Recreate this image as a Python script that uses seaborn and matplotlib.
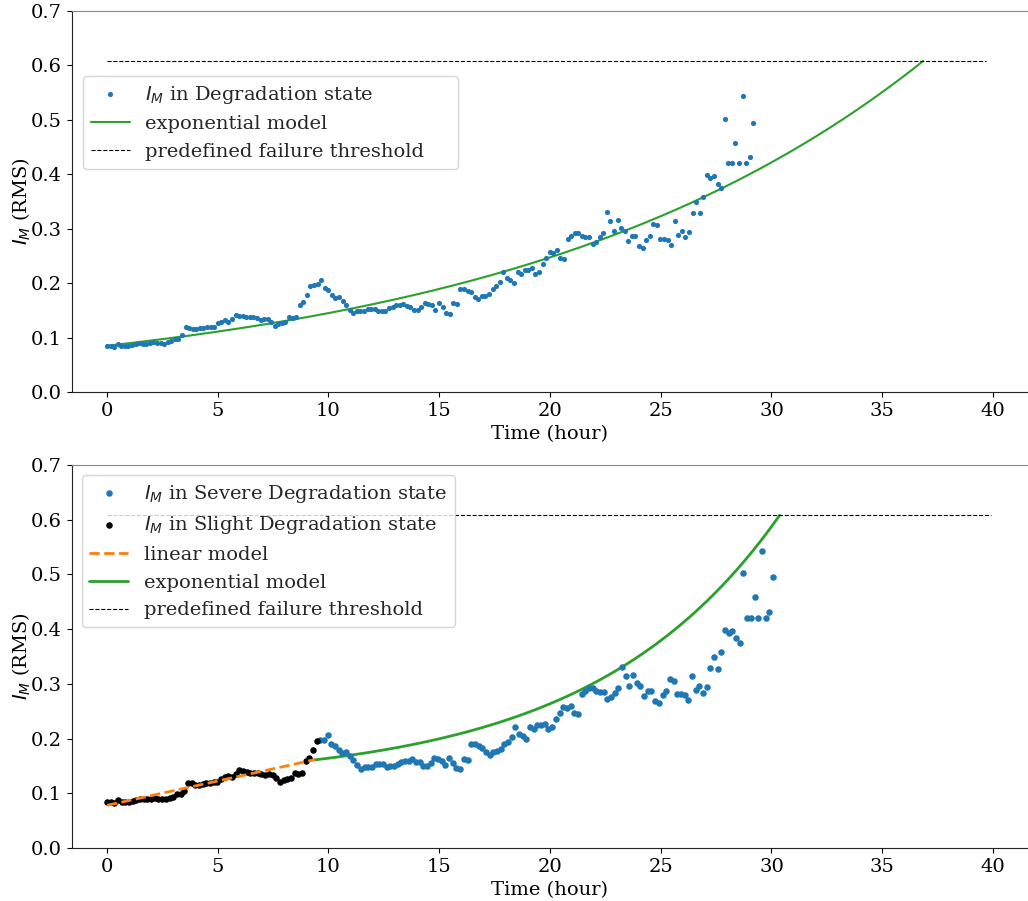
import numpy as np
import pandas as pd
import matplotlib
matplotlib.use("Agg")
import matplotlib.pyplot as plt
import seaborn as sns

# ---------------- data ----------------
im_values = [
    0.085, 0.085, 0.083, 0.088, 0.085, 0.085, 0.085, 0.086, 0.088, 0.090,
    0.089, 0.089, 0.090, 0.091, 0.090, 0.090, 0.089, 0.091, 0.093, 0.098,
    0.098, 0.105, 0.119, 0.118, 0.116, 0.116, 0.117, 0.118, 0.119, 0.120,
    0.120, 0.126, 0.129, 0.132, 0.129, 0.135, 0.142, 0.140, 0.139, 0.137,
    0.137, 0.137, 0.136, 0.133, 0.135, 0.134, 0.128, 0.121, 0.125, 0.126,
    0.128, 0.137, 0.136, 0.138, 0.159, 0.165, 0.179, 0.195, 0.197, 0.198,
    0.206, 0.191, 0.187, 0.179, 0.173, 0.175, 0.168, 0.160, 0.151, 0.145,
    0.148, 0.148, 0.148, 0.153, 0.153, 0.153, 0.148, 0.149, 0.149, 0.154,
    0.157, 0.159, 0.159, 0.162, 0.158, 0.157, 0.150, 0.150, 0.156, 0.164,
    0.162, 0.159, 0.151, 0.164, 0.156, 0.146, 0.144, 0.163, 0.161, 0.190,
    0.190, 0.186, 0.183, 0.175, 0.170, 0.176, 0.177, 0.181, 0.190, 0.194,
    0.202, 0.221, 0.209, 0.205, 0.200, 0.221, 0.217, 0.224, 0.225, 0.227,
    0.217, 0.221, 0.235, 0.247, 0.258, 0.256, 0.260, 0.247, 0.245, 0.282,
    0.287, 0.293, 0.293, 0.287, 0.285, 0.285, 0.272, 0.276, 0.284, 0.292,
    0.331, 0.315, 0.296, 0.316, 0.302, 0.296, 0.277, 0.287, 0.287, 0.268,
    0.265, 0.279, 0.287, 0.309, 0.306, 0.281, 0.282, 0.279, 0.271, 0.314,
    0.288, 0.296, 0.284, 0.294, 0.329, 0.349, 0.328, 0.359, 0.398, 0.393,
    0.396, 0.383, 0.374, 0.502, 0.420, 0.421, 0.458, 0.420, 0.543, 0.420,
    0.431, 0.495,
]
n_slight = 58            # first samples belong to the Slight Degradation state
dt_top = 0.1612          # hours per sample (top panel)
dt_bottom = 0.1661       # hours per sample (bottom panel)

threshold = 0.608
thr_end_top = 39.7
thr_end_bottom = 39.9

# exponential model, top: a*exp(b*t)
exp_top_a, exp_top_b = 0.085, 0.0534
# linear model, bottom: b0 + b1*t (0 .. lin_t_end)
lin_b0, lin_b1, lin_t_end = 0.078, 0.0089, 9.4
# exponential model, bottom: c + a*exp(b*t) from exp_bot_t0
exp_bot_c, exp_bot_a, exp_bot_b, exp_bot_t0 = 0.12, 0.01356, 0.118, 9.4

xticks = [0, 5, 10, 15, 20, 25, 30, 35, 40]
yticks = [0.0, 0.1, 0.2, 0.3, 0.4, 0.5, 0.6, 0.7]

# ---------------- style ----------------
sns.set_style("ticks")
plt.rcParams["font.family"] = ["DejaVu Serif"]
plt.rcParams["mathtext.fontset"] = "dejavusans"
FS = 14

BLUE, GREEN, ORANGE = "#1f77b4", "#2ca02c", "#ff7f0e"

vals = np.array(im_values)
idx = np.arange(len(vals))
df_top = pd.DataFrame({"t": idx * dt_top, "v": vals})
df_bot = pd.DataFrame({"t": idx * dt_bottom, "v": vals})

fig = plt.figure(figsize=(10.28, 9.01), dpi=100)
ax1 = fig.add_axes([0.070, 0.5649, 0.930, 0.4229])
ax2 = fig.add_axes([0.070, 0.0588, 0.930, 0.4251])

# ---------------- top panel ----------------
sns.scatterplot(data=df_top, x="t", y="v", ax=ax1, color=BLUE, s=14,
                linewidth=0, label=r"$I_M$ in Degradation state", zorder=3)
t_end_top = np.log(threshold / exp_top_a) / exp_top_b
tt = np.linspace(0, t_end_top, 300)
sns.lineplot(x=tt, y=exp_top_a * np.exp(exp_top_b * tt), ax=ax1, color=GREEN,
             lw=1.5, label="exponential model", zorder=2)
sns.lineplot(x=[0, thr_end_top], y=[threshold, threshold], ax=ax1, color="k",
             lw=0.8, linestyle="--", label="predefined failure threshold")

# ---------------- bottom panel ----------------
sns.scatterplot(data=df_bot.iloc[n_slight:], x="t", y="v", ax=ax2, color=BLUE,
                s=22, linewidth=0, label=r"$I_M$ in Severe Degradation state", zorder=3)
sns.scatterplot(data=df_bot.iloc[:n_slight], x="t", y="v", ax=ax2, color="k",
                s=22, linewidth=0, label=r"$I_M$ in Slight Degradation state", zorder=3)
tl = np.linspace(0, lin_t_end, 50)
sns.lineplot(x=tl, y=lin_b0 + lin_b1 * tl, ax=ax2, color=ORANGE, lw=2,
             linestyle="--", label="linear model", zorder=4)
t_end_bot = np.log((threshold - exp_bot_c) / exp_bot_a) / exp_bot_b
te = np.linspace(exp_bot_t0, t_end_bot, 300)
sns.lineplot(x=te, y=exp_bot_c + exp_bot_a * np.exp(exp_bot_b * te), ax=ax2,
             color=GREEN, lw=2, label="exponential model", zorder=2)
sns.lineplot(x=[0, thr_end_bottom], y=[threshold, threshold], ax=ax2, color="k",
             lw=0.8, linestyle="--", label="predefined failure threshold")

for ax in (ax1, ax2):
    ax.set_xlim(-1.58, 41.58)
    ax.set_ylim(0, 0.7)
    ax.set_xticks(xticks)
    ax.set_yticks(yticks)
    ax.set_yticklabels([f"{v:.1f}" for v in yticks])
    ax.tick_params(labelsize=FS, colors="k")
    ax.set_xlabel("Time (hour)", fontsize=FS, color="k")
    ax.set_ylabel(r"$I_M$ (RMS)", fontsize=FS, color="k", labelpad=-1)
    ax.spines["right"].set_visible(False)
    ax.spines["top"].set_visible(True)
    ax.spines["top"].set_color("#888888")
    for s in ("left", "bottom"):
        ax.spines[s].set_color("#222222")

ax1.legend(loc="upper left", bbox_to_anchor=(0.0118, 0.73, 0.392, 0.1),
           mode="expand", borderaxespad=0, fontsize=FS, frameon=True)
ax2.legend(loc="upper left", fontsize=FS, frameon=True)

fig.savefig("out.png", dpi=100)
